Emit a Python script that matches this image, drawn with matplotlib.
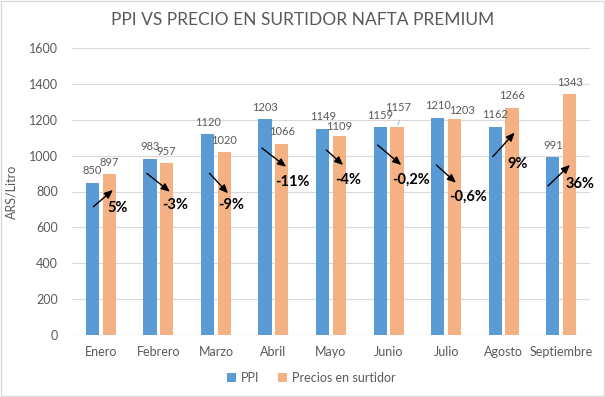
import numpy as np
import matplotlib
matplotlib.use("Agg")
import matplotlib.pyplot as plt
from matplotlib.patches import Rectangle

plt.rcParams['font.family'] = ['Lato', 'DejaVu Sans']

# data
meses = ["Enero", "Febrero", "Marzo", "Abril", "Mayo", "Junio", "Julio",
         "Agosto", "Septiembre"]
ppi = [850, 983, 1120, 1203, 1149, 1159, 1210, 1162, 991]
surtidor = [897, 957, 1020, 1066, 1109, 1157, 1203, 1266, 1343]
variacion = ["5%", "-3%", "-9%", "-11%", "-4%", "-0,2%", "-0,6%", "9%", "36%"]

# hand drawn arrows in the original: (dx start, y start, dx end, y end, dx text, y text)
flechas = [
    (-0.13, 715, 0.21, 808, 0.30, 706),
    (-0.20, 901, 0.20, 799, 0.30, 725),
    (-0.11, 901, 0.21, 790, 0.27, 725),
    (-0.20, 1042, 0.22, 938, 0.33, 855),
    (-0.08, 1031, 0.21, 948, 0.29, 864),
    (-0.19, 1059, 0.22, 948, 0.39, 864),
    (-0.17, 948, 0.17, 849, 0.38, 768),
    (-0.19, 994, 0.19, 1128, 0.25, 953),
    (-0.23, 831, 0.15, 948, 0.32, 842),
]

AZUL = "#5B9BD5"
NARANJA = "#F4B183"
GRIS = "#595959"
GRILLA = "#D9D9D9"

fig = plt.figure(figsize=(6.05, 3.97), dpi=100)
ax = fig.add_axes([72 / 605, 1 - 335 / 397, 518 / 605, 287 / 397])

x = np.arange(len(meses))
w = 0.23
b1 = ax.bar(x - 0.145, ppi, w, color=AZUL, label="PPI", zorder=2)
b2 = ax.bar(x + 0.145, surtidor, w, color=NARANJA, label="Precios en surtidor", zorder=2)

# value labels, a couple nudged like in the original
nudge = {("s", 5): (1, 20), ("s", 6): (7, 9), ("s", 4): (0, 10)}
for serie, bars, vals in (("p", b1, ppi), ("s", b2, surtidor)):
    for i, (r, v) in enumerate(zip(bars, vals)):
        dx, dy = nudge.get((serie, i), (0, 12))
        ax.annotate(str(v), (r.get_x() + r.get_width() / 2, v),
                    xytext=(dx * 0.72, dy * 0.72), textcoords="offset points",
                    ha="center", va="center", fontsize=8, color=GRIS, zorder=4)
        if (serie, i) == ("s", 5):
            ax.annotate("", (r.get_x() + r.get_width() / 2, v),
                        xytext=(2.5, 7), textcoords="offset points",
                        arrowprops=dict(arrowstyle="-", color="#A6A6A6", lw=0.6))

for i, (f, txt) in enumerate(zip(flechas, variacion)):
    x0, y0, x1, y1, xt, yt = f
    ax.annotate("", (i + x1, y1), xytext=(i + x0, y0),
                arrowprops=dict(arrowstyle="-|>,head_length=0.5,head_width=0.22",
                                color="black", lw=1.0, shrinkA=0, shrinkB=0),
                zorder=5)
    ax.text(i + xt, yt, txt, ha="center", va="center", fontsize=10.5,
            fontweight="bold", color="black", zorder=5)

ax.set_xlim(-0.5, len(meses) - 0.5)
ax.set_ylim(0, 1600)
ax.set_yticks(range(0, 1601, 200))
ax.set_xticks(x)
ax.set_xticklabels(meses)
ax.yaxis.grid(True, color=GRILLA, lw=0.8, zorder=0)
ax.set_axisbelow(True)
for s in ax.spines.values():
    s.set_visible(False)
ax.axhline(0, color=GRILLA, lw=0.8, zorder=1)
ax.tick_params(length=0, labelsize=9, colors=GRIS, pad=8)
ax.tick_params(axis="y", pad=10)
ax.set_ylabel("ARS/Litro", fontsize=9, color=GRIS, labelpad=8)

fig.text(0.5, 1 - 20 / 397, "PPI VS PRECIO EN SURTIDOR NAFTA PREMIUM",
         ha="center", va="center", fontsize=12.5, color=GRIS)

fig.legend(handles=[b1, b2], loc="center", bbox_to_anchor=(311 / 605, 1 - 378 / 397),
           ncol=2, frameon=False, fontsize=9, labelcolor=GRIS,
           handlelength=0.7, handleheight=0.7, handletextpad=0.4, columnspacing=1.5)

fig.patches.append(Rectangle((0.002, 0.002), 0.996, 0.996, transform=fig.transFigure,
                             fill=False, edgecolor=GRILLA, lw=1))

fig.savefig("out.png", dpi=100)
